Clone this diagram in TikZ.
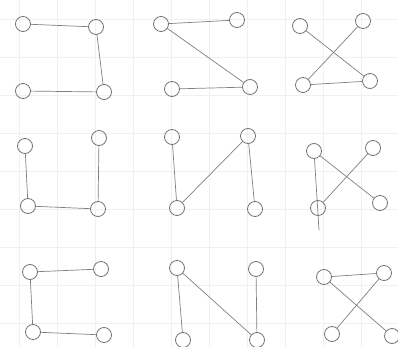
\documentclass[tikz,border=0pt]{standalone}
\usepackage{tikz}
\usetikzlibrary{positioning}

\begin{document}
\begin{tikzpicture}[
    x=1pt, y=-1pt,
    % --- node styles ---
    vertex/.style={
      circle, draw=black!55, line width=0.8pt, fill=none,
      minimum size=15pt, inner sep=0pt},
    edge/.style={draw=black!50, line width=0.7pt, line cap=round},
    paper/.style={draw=black!6, line width=0.6pt},
  ]

  % ============== PAPER ==============
  \fill[white] (0,0) rectangle (398,347);
  \useasboundingbox (0,0) rectangle (398,347);
  \foreach \gx in {19,57,...,398} {\draw[paper] (\gx,0) -- (\gx,347);}
  \foreach \gy in {19,57,...,347} {\draw[paper] (0,\gy) -- (398,\gy);}

  % ============== ROW 1 ==============
  \node[vertex] (p1tl) at (23,24)  {};
  \node[vertex] (p1tr) at (96,27)  {};
  \node[vertex] (p1bl) at (23,91)  {};
  \node[vertex] (p1br) at (104,92) {};

  \node[vertex] (p2tl) at (161,24) {};
  \node[vertex] (p2tr) at (237,20) {};
  \node[vertex] (p2bl) at (172,89) {};
  \node[vertex] (p2br) at (250,87) {};

  \node[vertex] (p3tl) at (300,26) {};
  \node[vertex] (p3tr) at (363,21) {};
  \node[vertex] (p3bl) at (303,85) {};
  \node[vertex] (p3br) at (370,81) {};

  % ============== ROW 2 ==============
  \node[vertex] (p4tl) at (25,146)  {};
  \node[vertex] (p4tr) at (99,138)  {};
  \node[vertex] (p4bl) at (28,206)  {};
  \node[vertex] (p4br) at (98,209)  {};

  \node[vertex] (p5tl) at (172,137) {};
  \node[vertex] (p5tr) at (248,136) {};
  \node[vertex] (p5bl) at (177,208) {};
  \node[vertex] (p5br) at (255,209) {};

  \node[vertex] (p6tl) at (314,151) {};
  \node[vertex] (p6tr) at (373,148) {};
  \node[vertex] (p6bl) at (318,208) {};
  \node[vertex] (p6br) at (380,203) {};
  \coordinate (p6tail) at (319,230);

  % ============== ROW 3 ==============
  \node[vertex] (p7tl) at (30,272)  {};
  \node[vertex] (p7tr) at (101,269) {};
  \node[vertex] (p7bl) at (33,332)  {};
  \node[vertex] (p7br) at (104,335) {};

  \node[vertex] (p8tl) at (177,268) {};
  \node[vertex] (p8tr) at (256,269) {};
  \node[vertex] (p8bl) at (183,340) {};
  \node[vertex] (p8br) at (257,340) {};

  \node[vertex] (p9tl) at (324,277) {};
  \node[vertex] (p9tr) at (384,273) {};
  \node[vertex] (p9bl) at (332,334) {};
  \node[vertex] (p9br) at (392,336) {};

  % ============== EDGES ==============
  \draw[edge] (p1tl) -- (p1tr);
  \draw[edge] (p1tr) -- (p1br);
  \draw[edge] (p1br) -- (p1bl);

  \draw[edge] (p2tl) -- (p2tr);
  \draw[edge] (p2tl) -- (p2br);
  \draw[edge] (p2br) -- (p2bl);

  \draw[edge] (p3tl) -- (p3br);
  \draw[edge] (p3tr) -- (p3bl);
  \draw[edge] (p3bl) -- (p3br);

  \draw[edge] (p4tl) -- (p4bl);
  \draw[edge] (p4bl) -- (p4br);
  \draw[edge] (p4tr) -- (p4br);

  \draw[edge] (p5tl) -- (p5bl);
  \draw[edge] (p5bl) -- (p5tr);
  \draw[edge] (p5tr) -- (p5br);

  \draw[edge] (p6tl) -- (p6tail);
  \draw[edge] (p6tl) -- (p6br);
  \draw[edge] (p6tr) -- (p6bl);

  \draw[edge] (p7tl) -- (p7tr);
  \draw[edge] (p7tl) -- (p7bl);
  \draw[edge] (p7bl) -- (p7br);

  \draw[edge] (p8tl) -- (p8bl);
  \draw[edge] (p8tl) -- (p8br);
  \draw[edge] (p8tr) -- (p8br);

  \draw[edge] (p9tl) -- (p9tr);
  \draw[edge] (p9tr) -- (p9bl);
  \draw[edge] (p9tl) -- (p9br);

\end{tikzpicture}
\end{document}
